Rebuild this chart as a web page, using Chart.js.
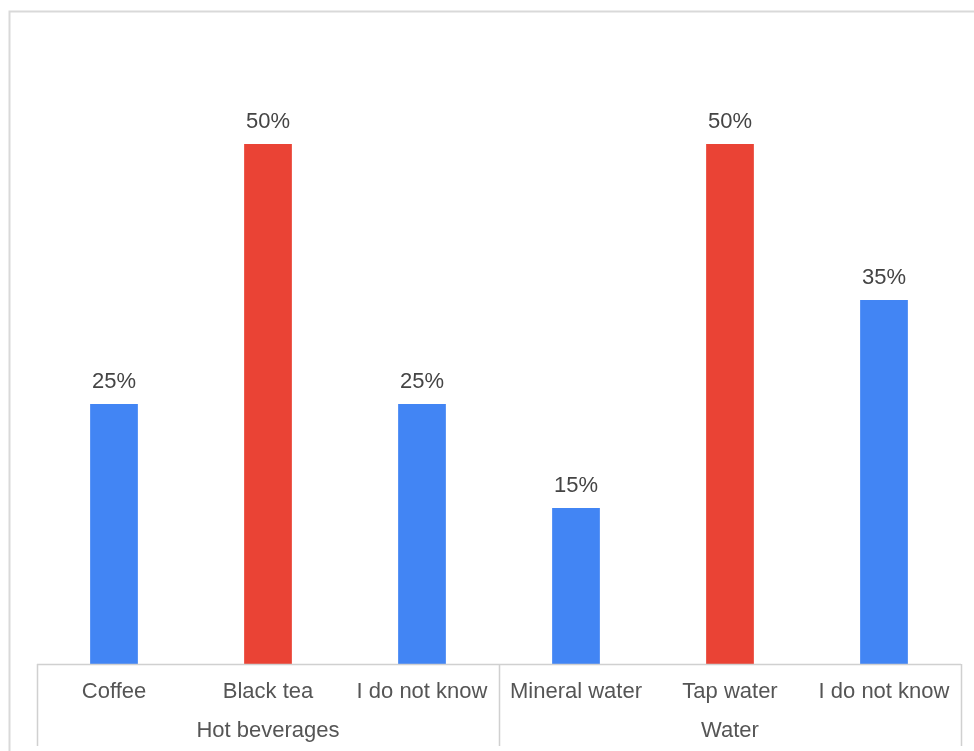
<!DOCTYPE html>
<html>
<head>
<meta charset="utf-8">
<script src="https://cdn.jsdelivr.net/npm/chart.js@4.4.0/dist/chart.umd.min.js"></script>
<style>
  html, body { margin: 0; padding: 0; background: #ffffff; }
  #wrap { width: 974px; height: 751px; position: relative; }
</style>
</head>
<body>
<div id="wrap"><canvas id="grafico"></canvas></div>
<script>
// dados do gráfico
const categorias = ['Coffee', 'Black tea', 'I do not know', 'Mineral water', 'Tap water', 'I do not know'];
const grupos = ['Hot beverages', 'Water'];
const tamanhoGrupo = [3, 3];
const valores = [25, 50, 25, 15, 50, 35];
const cores = ['#4285F4', '#EA4335', '#4285F4', '#4285F4', '#EA4335', '#4285F4'];

const FONTE = '"Liberation Sans", Arial, sans-serif';

// moldura, eixo agrupado e rótulos de valor
const pluginEixo = {
    id: 'eixoAgrupado',
    beforeDraw(chart) {
        const ctx = chart.ctx;
        ctx.save();
        ctx.strokeStyle = '#d9d9d9';
        ctx.lineWidth = 2;
        ctx.strokeRect(9.5, 11.5, 1000, 800);
        ctx.restore();
    },
    afterDatasetsDraw(chart) {
        const ctx = chart.ctx;
        const x = chart.scales.x;
        const area = chart.chartArea;
        const passo = x.getPixelForValue(1) - x.getPixelForValue(0);
        const baseY = area.bottom;
        const fundo = baseY + 82;

        ctx.save();
        // linha do eixo
        ctx.strokeStyle = '#d0d0d0';
        ctx.lineWidth = 1.5;
        ctx.beginPath();
        ctx.moveTo(area.left, baseY + 0.5);
        ctx.lineTo(area.right, baseY + 0.5);
        // separadores dos grupos
        let idx = 0;
        const limites = [x.getPixelForValue(0) - passo / 2];
        tamanhoGrupo.forEach(n => {
            idx += n;
            limites.push(x.getPixelForValue(idx - 1) + passo / 2);
        });
        limites.forEach(px => {
            ctx.moveTo(Math.round(px) + 0.5, baseY);
            ctx.lineTo(Math.round(px) + 0.5, fundo);
        });
        ctx.stroke();

        // rótulos das categorias
        ctx.fillStyle = '#555555';
        ctx.font = '22px ' + FONTE;
        ctx.textAlign = 'center';
        ctx.textBaseline = 'middle';
        categorias.forEach((c, i) => {
            ctx.fillText(c, x.getPixelForValue(i), baseY + 28);
        });
        // rótulos dos grupos
        grupos.forEach((g, gi) => {
            const meio = (limites[gi] + limites[gi + 1]) / 2;
            ctx.fillText(g, meio, baseY + 67);
        });

        // valores acima das barras
        ctx.fillStyle = '#444444';
        const meta = chart.getDatasetMeta(0);
        meta.data.forEach((bar, i) => {
            ctx.fillText(valores[i] + '%', bar.x, bar.y - 22);
        });
        ctx.restore();
    }
};

const config = {
    type: 'bar',
    data: {
        labels: categorias,
        datasets: [{
            data: valores,
            backgroundColor: cores,
            borderWidth: 0,
            categoryPercentage: 1,
            barPercentage: 0.31
        }]
    },
    options: {
        responsive: true,
        maintainAspectRatio: false,
        animation: false,
        layout: {
            padding: { left: 37, right: 13, top: 40, bottom: 87 }
        },
        plugins: {
            legend: { display: false },
            tooltip: { enabled: false }
        },
        scales: {
            x: { display: false },
            y: { display: false, min: 0, max: 60 }
        }
    },
    plugins: [pluginEixo]
};

new Chart(document.getElementById('grafico'), config);
</script>
</body>
</html>
